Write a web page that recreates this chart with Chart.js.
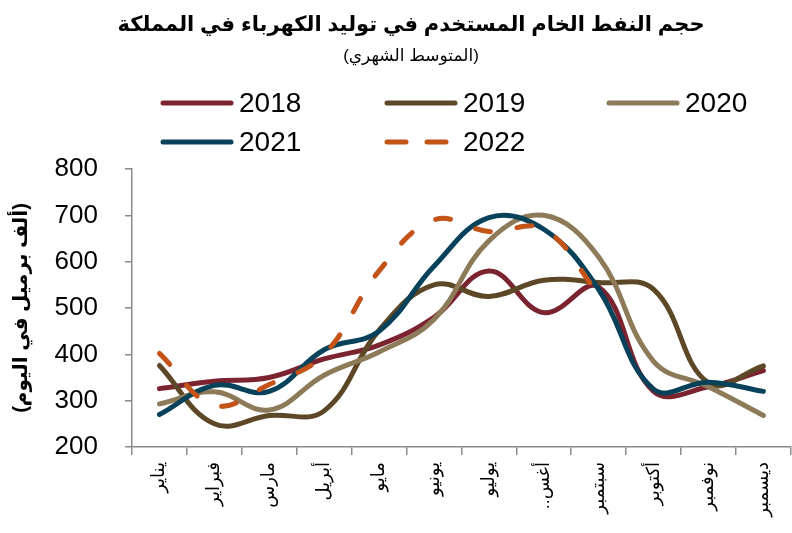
<!DOCTYPE html>
<html lang="ar">
<head>
<meta charset="utf-8">
<title>حجم النفط الخام المستخدم في توليد الكهرباء في المملكة</title>
<script src="https://cdn.jsdelivr.net/npm/chart.js@4.4.1/dist/chart.umd.min.js"></script>
<style>
  body { margin: 0; background: #fff; }
  #wrap { position: relative; width: 792px; height: 533px; overflow: hidden;
          font-family: Arial, "Liberation Sans", "DejaVu Sans", sans-serif; color: #000; }
  #chartBox { position: absolute; left: 0; top: 0; width: 792px; height: 533px; }
  .title { position: absolute; left: 0; width: 822px; text-align: center; direction: rtl; white-space: nowrap; }
  #mainTitle { top: 10px; font-size: 21px; font-weight: bold; line-height: 28px; }
  #subTitle { top: 45px; font-size: 17px; line-height: 22px; }
  .legend-item { position: absolute; height: 32px; display: flex; align-items: center; }
  .legend-item span { font-size: 28px; margin-left: 5px; line-height: 32px; }
</style>
</head>
<body>
<div id="wrap">
  <div id="chartBox"><canvas id="oilChart"></canvas></div>
  <div class="title" id="mainTitle">حجم النفط الخام المستخدم في توليد الكهرباء في المملكة</div>
  <div class="title" id="subTitle">(المتوسط الشهري)</div>
  <div id="legend"></div>
</div>
<script>
// month labels (x axis)
const months = ['يناير', 'فبراير', 'مارس', 'أبريل', 'مايو', 'يونيو', 'يوليو', 'أغس..\u200F', 'سبتمبر', 'أكتوبر', 'نوفمبر', 'ديسمبر'];

// thousand barrels per day
const y2018 = [326, 342, 350, 390, 420, 480, 580, 490, 545, 320, 330, 365];
const y2019 = [376, 250, 268, 278, 452, 550, 525, 560, 555, 540, 338, 375];
const y2020 = [293, 319, 280, 355, 405, 475, 645, 700, 610, 385, 330, 268];
const y2021 = [270, 333, 320, 410, 450, 590, 695, 670, 540, 325, 340, 320];
const y2022 = [402, 290, 335, 400, 580, 690, 665, 670, 530];

const yTicks = [200, 300, 400, 500, 600, 700, 800];
const yTitle = '(ألف برميل في اليوم)';

const series = [
    { label: '2018', data: y2018, color: '#7B2430', dash: [] },
    { label: '2019', data: y2019, color: '#5C4826', dash: [] },
    { label: '2020', data: y2020, color: '#8D7A59', dash: [] },
    { label: '2021', data: y2021, color: '#07425A', dash: [] },
    { label: '2022', data: y2022, color: '#C45318', dash: [15, 27] }
];

// legend grid positions (3 columns, 2 rows)
const legendCols = [160, 384, 606];
const legendRows = [87, 126];

function buildLegend() {
    const box = document.getElementById('legend');
    series.forEach((s, i) => {
        const item = document.createElement('div');
        item.className = 'legend-item';
        item.style.left = legendCols[i % 3] + 'px';
        item.style.top = legendRows[Math.floor(i / 3)] + 'px';
        // dashed sample: two dashes like the reference key
        const line = s.dash.length
            ? `<line x1="3" y1="5" x2="63" y2="5" stroke="${s.color}" stroke-width="5" stroke-linecap="round" stroke-dasharray="19 21"/>`
            : `<line x1="3" y1="5" x2="71" y2="5" stroke="${s.color}" stroke-width="5" stroke-linecap="round"/>`;
        item.innerHTML = `<svg width="74" height="10">${line}</svg><span>${s.label}</span>`;
        box.appendChild(item);
    });
}

const axisGray = '#8a8a8a';

const ctx = document.getElementById('oilChart').getContext('2d');
new Chart(ctx, {
    type: 'line',
    data: {
        labels: months,
        datasets: series.map((s, i) => ({
            label: s.label,
            data: s.data,
            borderColor: s.color,
            backgroundColor: s.color,
            borderWidth: 5,
            borderDash: s.dash,
            borderCapStyle: 'round',
            borderJoinStyle: 'round',
            pointRadius: 0,
            tension: 0.4,
            fill: false,
            order: series.length - i
        }))
    },
    options: {
        responsive: true,
        maintainAspectRatio: false,
        animation: false,
        layout: { padding: { top: 169, right: 0, bottom: 0, left: 0 } },
        plugins: {
            legend: { display: false },
            title: { display: false },
            tooltip: { enabled: false }
        },
        scales: {
            x: {
                offset: true,
                grid: { offset: true, drawOnChartArea: false, drawTicks: true, tickLength: 8, color: axisGray, lineWidth: 1.5 },
                border: { color: axisGray, width: 1.5 },
                ticks: {
                    minRotation: 90, maxRotation: 90, autoSkip: false, padding: 7,
                    color: '#000',
                    font: { family: 'Arial, "DejaVu Sans", sans-serif', size: 18 }
                },
                afterFit(scale) { scale.height = 86; }
            },
            y: {
                min: 200, max: 800,
                afterBuildTicks(scale) { scale.ticks = yTicks.map(v => ({ value: v })); },
                grid: { drawOnChartArea: false, drawTicks: true, tickLength: 7, color: axisGray, lineWidth: 1.5 },
                border: { color: axisGray, width: 1.5 },
                ticks: {
                    padding: 27,
                    color: '#000',
                    font: { family: 'Arial, "Liberation Sans", sans-serif', size: 26 }
                },
                title: {
                    display: true,
                    text: yTitle,
                    color: '#000',
                    padding: { top: 9, bottom: 0 },
                    font: { family: 'Arial, "DejaVu Sans", sans-serif', size: 20, weight: 'bold' }
                },
                afterFit(scale) { scale.width = 132; }
            }
        }
    }
});

buildLegend();
</script>
</body>
</html>
